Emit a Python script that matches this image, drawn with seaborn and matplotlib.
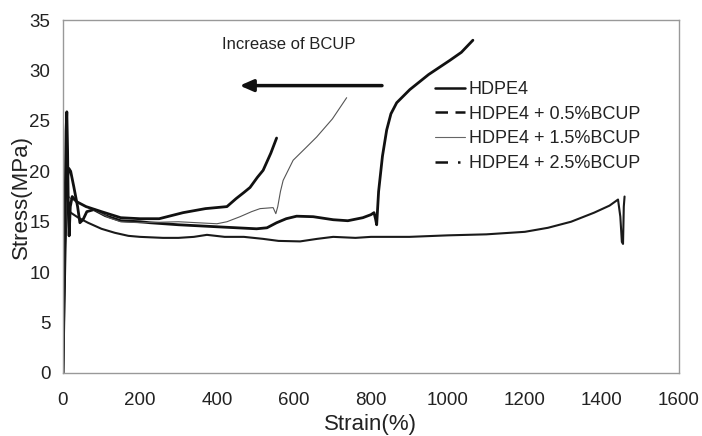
import numpy as np
import pandas as pd
import matplotlib
matplotlib.use("Agg")
import matplotlib.pyplot as plt
from matplotlib.lines import Line2D
import seaborn as sns

# strain (%) / stress (MPa)
hdpe4_strain = [0, 3, 6, 9, 13, 20, 40, 65, 100, 135, 170, 200, 260, 300, 340, 374,
                420, 470, 520, 560, 616, 660, 702, 760, 800, 900, 1000, 1100, 1200,
                1260, 1320, 1380, 1420, 1442, 1448, 1452, 1455, 1457, 1459]
hdpe4_stress = [0, 8, 14, 16.8, 16.4, 15.9, 15.4, 14.9, 14.3, 13.9, 13.6, 13.5, 13.4,
                13.4, 13.5, 13.7, 13.5, 13.5, 13.3, 13.1, 13.05, 13.3, 13.5, 13.4, 13.5,
                13.5, 13.65, 13.75, 14.0, 14.4, 15.0, 15.9, 16.6, 17.2, 15.5, 13.0, 12.8,
                16.5, 17.5]

bcup05_strain = [0, 3, 6, 9, 12, 15, 20, 28, 38, 44, 52, 62, 80, 110, 150, 200, 226,
                 300, 400, 503, 530, 555, 580, 607, 650, 702, 740, 779, 800, 808, 812,
                 815, 820, 830, 841, 852, 867, 901, 950, 1005, 1035, 1065]
bcup05_stress = [0, 7, 13, 17, 19.5, 20.3, 20.0, 18.5, 16.5, 14.9, 15.2, 16.0, 16.2,
                 15.6, 15.1, 15.0, 14.9, 14.7, 14.5, 14.3, 14.4, 14.9, 15.3, 15.55, 15.5,
                 15.2, 15.1, 15.4, 15.7, 15.9, 15.3, 14.7, 18.0, 21.5, 24.1, 25.7, 26.8,
                 28.1, 29.6, 31.0, 31.8, 33.0]

bcup15_strain = [0, 3, 6, 9, 12, 20, 40, 60, 90, 120, 150, 200, 250, 300, 350, 400, 426,
                 460, 490, 512, 546, 553, 558, 565, 572, 598, 630, 659, 700, 737]
bcup15_stress = [0, 7, 13, 16.8, 17.6, 17.3, 16.9, 16.5, 16.0, 15.4, 15.0, 14.9, 14.95,
                 15.0, 14.9, 14.8, 15.0, 15.5, 16.0, 16.3, 16.4, 15.8, 16.5, 18.0, 19.1,
                 21.1, 22.3, 23.4, 25.2, 27.3]

bcup25_strain = [0, 3, 6, 8, 10, 12, 14, 16, 19, 24, 35, 60, 100, 150, 200, 250, 312,
                 370, 426, 450, 470, 486, 505, 520, 540, 555]
bcup25_stress = [0, 9, 18, 24, 25.9, 22, 16, 13.6, 16.5, 17.5, 17.0, 16.5, 16.0, 15.4,
                 15.3, 15.3, 15.9, 16.3, 16.5, 17.3, 17.9, 18.4, 19.4, 20.1, 21.8, 23.3]

labels = ["HDPE4", "HDPE4 + 0.5%BCUP", "HDPE4 + 1.5%BCUP", "HDPE4 + 2.5%BCUP"]

sns.set_style("white")
plt.rcParams["font.family"] = ["Liberation Sans", "DejaVu Sans"]

fig = plt.figure(figsize=(7.02, 4.36), dpi=100)
ax = fig.add_axes([0.0897, 0.1445, 0.8773, 0.8095])

curves = [
    (hdpe4_strain, hdpe4_stress, 1.5, "#1a1a1a"),
    (bcup05_strain, bcup05_stress, 2.0, "#111111"),
    (bcup15_strain, bcup15_stress, 0.8, "#555555"),
    (bcup25_strain, bcup25_stress, 2.0, "#111111"),
]
for (sx, sy, lw, col), name in zip(curves, labels):
    df = pd.DataFrame({"Strain": sx, "Stress": sy})
    sns.lineplot(data=df, x="Strain", y="Stress", sort=False, estimator=None,
                 color=col, linewidth=lw, ax=ax)

ax.set_xlim(0, 1600)
ax.set_ylim(0, 35)
ax.set_xticks(np.arange(0, 1601, 200))
ax.set_yticks(np.arange(0, 36, 5))
ax.tick_params(axis="both", direction="out", length=4, width=0.8, color="#999999",
               labelsize=13.5, labelcolor="#222222", pad=5)
ax.tick_params(axis="x", pad=10)
for sp in ax.spines.values():
    sp.set_color("#999999")
    sp.set_linewidth(1.0)

ax.set_xlabel("Strain(%)", fontsize=16, color="#222222", labelpad=3)
ax.set_ylabel("Stress(MPa)", fontsize=16, color="#222222", labelpad=-2)

ax.text(413, 32.6, "Increase of BCUP", fontsize=12, color="#222222", va="center")
ax.annotate("", xy=(452, 28.5), xytext=(836, 28.5),
            arrowprops=dict(arrowstyle="-|>,head_length=0.8,head_width=0.35",
                            color="#111111", lw=2.5))

handles = [
    Line2D([], [], color="#111111", lw=1.8),
    Line2D([], [], color="#111111", lw=1.8, dashes=(5, 3)),
    Line2D([], [], color="#666666", lw=0.8),
    Line2D([], [], color="#111111", lw=1.8, dashes=(5, 4, 1, 4)),
]
ax.legend(handles, labels, loc="upper left", bbox_to_anchor=(0.577, 0.873),
          frameon=False, fontsize=13, handlelength=1.7, handletextpad=0.2,
          labelspacing=0.42, labelcolor="#222222")

fig.savefig("out.png", dpi=100)
